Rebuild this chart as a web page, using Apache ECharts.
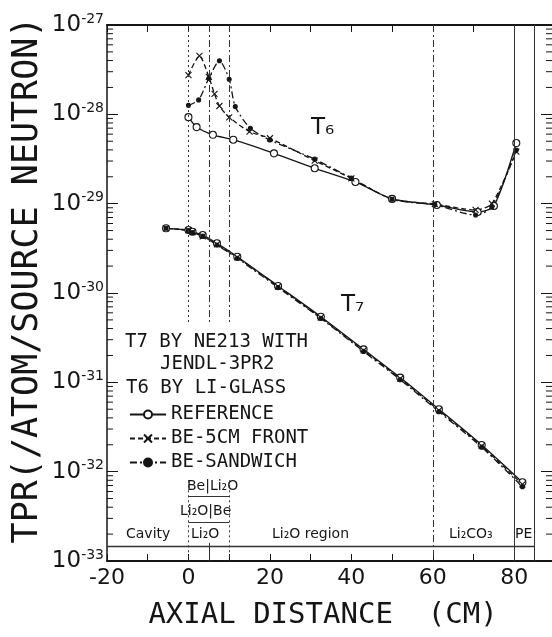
<!DOCTYPE html>
<html>
<head>
<meta charset="utf-8">
<title>TPR axial distribution</title>
<script src="https://cdn.jsdelivr.net/npm/echarts@6/dist/echarts.min.js"></script>
<style>html,body{margin:0;padding:0;background:#fff;}</style>
</head>
<body>
<div id="main" style="width:552px;height:637px;"></div>
<script>
// axis range
var X_MIN = -20, X_MAX = 90;
var Y_MIN = 1e-33, Y_MAX = 1e-27;
var Y_AXIS_MIN = 0.99999e-33; // a hair below 1e-33 so the 10^-33 tick survives float rounding

// T6 (Li-glass) curves
var t6RefX  = [0, 2, 6, 11, 21, 31, 41, 50, 61, 71, 75, 80.5];
var t6Ref   = [9.3e-29, 7.2e-29, 5.9e-29, 5.2e-29, 3.66e-29, 2.49e-29, 1.75e-29, 1.13e-29, 9.66e-30, 8.07e-30, 9.42e-30, 4.77e-29];
var t6FrontX = [0, 2.7, 5, 6.4, 7.6, 10, 15, 20, 31, 40, 50, 60.5, 70.5, 74.5, 80.5];
var t6Front  = [2.75e-28, 4.5e-28, 2.63e-28, 1.69e-28, 1.24e-28, 9.27e-29, 6.4e-29, 5.4e-29, 3.03e-29, 1.92e-29, 1.13e-29, 9.9e-30, 8.5e-30, 1.0e-29, 3.82e-29];
var t6SandX  = [0, 2.5, 5, 7.6, 10, 11.5, 15.2, 20, 31, 40, 50, 60.5, 70.5, 74.5, 80.5];
var t6Sand   = [1.26e-28, 1.45e-28, 2.53e-28, 3.98e-28, 2.47e-28, 1.22e-28, 6.97e-29, 5.16e-29, 3.15e-29, 1.93e-29, 1.12e-29, 9.7e-30, 7.46e-30, 9.2e-30, 3.98e-29];

// T7 (NE213) curves
var t7X     = [-5.5, 0, 1, 3.5, 7, 12, 22, 32.5, 43, 52, 61.5, 72, 82];
var t7Ref   = [5.3e-30, 5.07e-30, 4.85e-30, 4.46e-30, 3.6e-30, 2.55e-30, 1.2e-30, 5.43e-31, 2.34e-31, 1.13e-31, 4.99e-32, 1.99e-32, 7.6e-33];
var t7Front = [5.3e-30, 5.05e-30, 4.8e-30, 4.3e-30, 3.5e-30, 2.5e-30, 1.18e-30, 5.3e-31, 2.28e-31, 1.1e-31, 4.85e-32, 1.93e-32, 7.2e-33];
var t7Sand  = [5.3e-30, 5.0e-30, 4.75e-30, 4.35e-30, 3.45e-30, 2.45e-30, 1.15e-30, 5.2e-31, 2.22e-31, 1.07e-31, 4.7e-32, 1.88e-32, 6.8e-33];

// region boundaries (cm)
var dashedBounds = [5, 10, 60];
var solidBounds  = [80, 85];

// log minor tick values
var minorVals = [];
for (var e = -33; e < -27; e++) {
    for (var k = 2; k <= 9; k++) minorVals.push(k * Math.pow(10, e));
}

function zip(xs, ys) {
    return xs.map(function (x, i) { return [x, ys[i]]; });
}

var INK = '#151515';
var xMark = 'path://M0,0L10,10M10,0L0,10';

function curve(name, xs, ys, dash, symbol, size, fill) {
    return {
        name: name,
        type: 'line',
        data: zip(xs, ys),
        smooth: 0.25,
        symbol: symbol,
        symbolSize: size,
        lineStyle: { color: INK, width: 1.3, type: dash },
        itemStyle: { color: fill, borderColor: INK, borderWidth: 1.1 },
        z: 3
    };
}

var vLines = [];
vLines.push([{ coord: [0, Y_MAX], lineStyle: { type: [2, 3] } }, { coord: [0, 4.4e-31] }]);
vLines.push([{ coord: [0, 8e-33], lineStyle: { type: [2, 3] } }, { coord: [0, Y_MIN] }]);
dashedBounds.forEach(function (b) {
    var low = b === 60 ? Y_MIN : 4.4e-31;
    vLines.push([{ coord: [b, Y_MAX], lineStyle: { type: [7, 3, 2, 3] } }, { coord: [b, low] }]);
});
vLines.push([{ coord: [10, 8e-33], lineStyle: { type: [2, 3] } }, { coord: [10, Y_MIN] }]);
vLines.push([{ coord: [5, 1.6e-33], lineStyle: { type: 'solid' } }, { coord: [5, Y_MIN] }]);
solidBounds.forEach(function (b) {
    vLines.push([{ coord: [b, Y_MAX], lineStyle: { type: 'solid' } }, { coord: [b, Y_MIN] }]);
});
// region strip and brackets at the bottom
vLines.push([{ coord: [X_MIN, 1.47e-33], lineStyle: { type: 'solid', width: 1.3 } }, { coord: [85, 1.47e-33] }]);
vLines.push([{ coord: [0, 5.33e-33], lineStyle: { type: 'solid' } }, { coord: [10, 5.33e-33] }]);
vLines.push([{ coord: [0, 2.75e-33], lineStyle: { type: 'solid' } }, { coord: [10, 2.75e-33] }]);

var series = [
    curve('REFERENCE', t6RefX, t6Ref, 'solid', 'circle', 7, '#fff'),
    curve('BE-5CM FRONT', t6FrontX, t6Front, [5, 3], xMark, 6, 'transparent'),
    curve('BE-SANDWICH', t6SandX, t6Sand, [7, 3, 2, 3], 'circle', 4, INK),
    curve('REFERENCE', t7X, t7Ref, 'solid', 'circle', 7, '#fff'),
    curve('BE-5CM FRONT', t7X, t7Front, [5, 3], xMark, 6, 'transparent'),
    curve('BE-SANDWICH', t7X, t7Sand, [7, 3, 2, 3], 'circle', 4, INK)
];
series[0].markLine = {
    silent: true,
    symbol: 'none',
    label: { show: false },
    lineStyle: { color: '#333', width: 1 },
    data: vLines
};
// log minor ticks on left and right frames
series.push({
    type: 'custom',
    silent: true,
    clip: false,
    z: 5,
    data: minorVals.map(function (v) { return [X_MIN, v]; }),
    renderItem: function (params, api) {
        var v = api.value(1);
        var pl = api.coord([X_MIN, v]);
        var pr = api.coord([X_MAX, v]);
        return {
            type: 'group',
            children: [
                { type: 'line', shape: { x1: pl[0], y1: pl[1], x2: pl[0] + 6, y2: pl[1] }, style: { stroke: INK, lineWidth: 1 } },
                { type: 'line', shape: { x1: pr[0], y1: pr[1], x2: pr[0] - 9, y2: pr[1] }, style: { stroke: INK, lineWidth: 1 } }
            ]
        };
    }
});

var mono = '"DejaVu Sans Mono", monospace';
var sans = '"DejaVu Sans", sans-serif';

function txt(s, x, y, font) {
    return { type: 'text', x: x, y: y, silent: true,
        style: { text: s, font: font, fill: INK, align: 'left', verticalAlign: 'middle' } };
}

var yTitle = txt('TPR(/ATOM/SOURCE NEUTRON)', 28, 280, '35px ' + mono);
yTitle.rotation = Math.PI / 2;
yTitle.style.align = 'center';

var myChart = echarts.init(document.getElementById('main'));

var option = {
    animation: false,
    backgroundColor: '#fff',
    grid: { left: 107, top: 25, width: 448, height: 536, outerBoundsMode: 'none', containLabel: false },
    legend: {
        data: ['REFERENCE', 'BE-5CM FRONT', 'BE-SANDWICH'],
        orient: 'vertical',
        left: 124,
        top: 400,
        itemGap: 5,
        itemWidth: 36,
        itemHeight: 10,
        selectedMode: false,
        textStyle: { fontFamily: mono, fontSize: 19, color: INK }
    },
    xAxis: [{
        type: 'value', min: X_MIN, max: X_MAX, interval: 20, position: 'bottom',
        axisLine: { onZero: false, lineStyle: { color: INK, width: 2 } },
        axisTick: { inside: true, length: 7, lineStyle: { color: INK } },
        minorTick: { show: true, splitNumber: 2, length: 7, lineStyle: { color: INK } },
        splitLine: { show: false },
        axisLabel: { fontFamily: sans, fontSize: 22, color: INK, margin: 6, showMaxLabel: false, showMinLabel: true },
        name: 'AXIAL DISTANCE  (CM)',
        nameLocation: 'middle',
        nameGap: 40,
        nameTextStyle: { fontFamily: mono, fontSize: 29, color: INK, padding: [0, 16, 0, 0] }
    }, {
        type: 'value', min: X_MIN, max: X_MAX, interval: 20, position: 'top',
        axisLine: { onZero: false, lineStyle: { color: INK, width: 2 } },
        axisTick: { inside: true, length: 7, lineStyle: { color: INK } },
        minorTick: { show: true, splitNumber: 2, length: 7, lineStyle: { color: INK } },
        splitLine: { show: false },
        axisLabel: { show: false }
    }],
    yAxis: [{
        type: 'log', logBase: 10, min: Y_AXIS_MIN, max: Y_MAX, position: 'left',
        axisLine: { onZero: false, lineStyle: { color: INK, width: 1.5 } },
        axisTick: { inside: true, length: 11, lineStyle: { color: INK } },
        splitLine: { show: false },
        axisLabel: {
            margin: 3,
            showMinLabel: true,
            showMaxLabel: true,
            hideOverlap: false,
            formatter: function (v) {
                if (!(v > 0)) return '';
                return '{b|10}{s|' + Math.round(Math.log10(v)) + '}';
            },
            rich: {
                b: { fontFamily: sans, fontSize: 23, color: INK, lineHeight: 26 },
                s: { fontFamily: sans, fontSize: 14, color: INK, verticalAlign: 'top', lineHeight: 14 }
            }
        }
    }, {
        type: 'log', logBase: 10, min: Y_AXIS_MIN, max: Y_MAX, position: 'right',
        axisLine: { onZero: false, lineStyle: { color: INK, width: 1.5 } },
        axisTick: { inside: true, length: 14, lineStyle: { color: INK } },
        splitLine: { show: false },
        axisLabel: { show: false }
    }],
    graphic: [
        yTitle,
        txt('T7 BY NE213 WITH', 125, 342, '19px ' + mono),
        txt('JENDL-3PR2', 160, 364, '19px ' + mono),
        txt('T6 BY LI-GLASS', 126, 388, '19px ' + mono),
        txt('T\u2086', 311, 128, '23px ' + sans),
        txt('T\u2087', 341, 305, '23px ' + sans),
        txt('Be|Li\u2082O', 187, 486, '14px ' + sans),
        txt('Li\u2082O|Be', 180, 511, '14px ' + sans),
        txt('Cavity', 126, 534, '14px ' + sans),
        txt('Li\u2082O', 191, 534, '14px ' + sans),
        txt('Li\u2082O region', 272, 534, '14px ' + sans),
        txt('Li\u2082CO\u2083', 449, 534, '14px ' + sans),
        txt('PE', 515, 534, '14px ' + sans)
    ],
    series: series
};

myChart.setOption(option);
</script>
</body>
</html>
